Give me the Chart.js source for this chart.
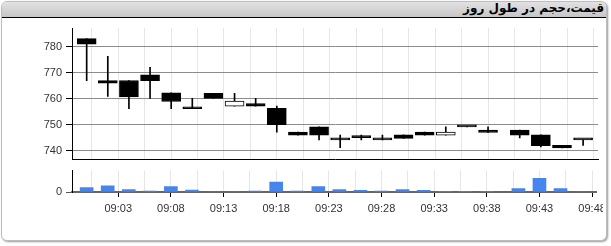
<!DOCTYPE html>
<html><head><meta charset="utf-8">
<script src="https://cdn.jsdelivr.net/npm/chart.js@4.4.1/dist/chart.umd.min.js"></script>
<style>
html,body{margin:0;padding:0;background:#fff;width:611px;height:246px;overflow:hidden}
#frame{position:absolute;left:1px;top:1px;width:606px;height:240px;box-sizing:border-box;border:1px solid #bdbdbd;border-radius:6px;box-shadow:1px 1px 2px #999;background:#fff}
#hdr{position:absolute;left:0;top:0;right:0;height:15px;border-bottom:1px solid #000;background:linear-gradient(#e2e2e2,#c6c6c6);border-radius:5px 5px 0 0}
#title{position:absolute;right:2px;top:-1px;font:bold 12px "DejaVu Sans";direction:rtl;white-space:nowrap;color:#000}
#wrap{position:absolute;left:0;top:0;width:603px;height:240px;overflow:hidden}
canvas{position:absolute;left:0}
</style></head>
<body>
<div id="frame"><div id="hdr"><span id="title">قیمت،حجم در طول روز</span></div></div>
<div id="wrap">
<canvas id="price" width="611" height="170" style="top:0px"></canvas>
<canvas id="vol" width="611" height="80" style="top:160px"></canvas>
</div>
<script>
// minutes after 09:00
const times   = [0,2,4,6,8,10,12,14,16,18,20,22,24,26,28,30,32,34,36,38,41,43,45,47];
const opens   = [783.1,767.0,767.0,769.2,762.2,756.1,762.0,757.1,758.1,756.3,747.1,749.1,744.1,745.0,744.1,746.1,747.1,745.9,749.1,747.9,747.9,746.1,742.0,744.1];
const highs   = [783.1,776.3,767.0,772.1,762.2,760.1,762.0,762.0,760.1,757.1,747.1,749.1,746.0,746.0,746.0,746.1,747.1,749.1,749.1,749.1,747.9,746.1,742.0,744.1];
const lows    = [766.9,760.9,756.1,760.1,756.1,756.1,760.1,757.1,757.1,747.1,745.9,744.1,741.1,744.1,744.1,744.7,745.9,745.9,749.1,747.0,744.9,741.4,741.0,742.0];
const closes  = [781.0,766.0,760.7,766.9,758.9,756.1,760.1,759.1,757.1,750.0,745.9,745.9,744.1,745.0,744.1,744.7,745.9,747.1,749.1,747.0,745.9,741.9,741.0,744.1];
const volumes = [470,670,270,90,570,200,0,0,90,1070,90,570,270,170,90,270,170,80,80,80,370,1470,370,0];
const priceTicks = [740,750,760,770,780];
const volumeTicks = [0];
const gridTimes = [0.5,3,5.5,8,10.5,13,15.5,18,20.5,23,25.5,28,30.5,33,35.5,38,40.5,43,45.5,48];
const labelTimes = [3,8,13,18,23,28,33,38,43,48];

Chart.defaults.font.family = 'Arial, "Liberation Sans", sans-serif';
Chart.defaults.font.size = 11;
Chart.defaults.color = '#333';
Chart.defaults.animation = false;

const X_MIN = -1.39, X_MAX = 48.41;
const fmt = v => '09:' + String(Math.round(v)).padStart(2,'0');
const isLabel = v => labelTimes.some(t => Math.abs(t - v) < 1e-6);

const bodies = times.map((t,i)=>({x:t, y:[Math.min(opens[i],closes[i]), Math.max(opens[i],closes[i])]}));
const wicks  = times.map((t,i)=>({x:t, y:[lows[i], highs[i]]}));
const bodyFill = times.map((t,i)=> closes[i] > opens[i] ? '#ffffff' : '#000000');

new Chart(document.getElementById('price'), {
  type: 'bar',
  data: { datasets: [
    { data: bodies, backgroundColor: bodyFill, borderColor: '#000', borderWidth: 1, borderSkipped: false,
      barThickness: 19, grouped: false, minBarLength: 2 },
    { data: wicks, backgroundColor: '#000', borderWidth: 0, barThickness: 1, grouped: false }
  ]},
  options: {
    responsive: false,
    layout: { padding: { left: 0, top: 28, right: 13, bottom: 7 } },
    plugins: { legend: { display: false }, tooltip: { enabled: false } },
    scales: {
      x: { type: 'linear', min: X_MIN, max: X_MAX, offset: false,
        afterBuildTicks: s => { s.ticks = gridTimes.map(v=>({value:v})); },
        afterFit: s => { s.height = 0; },
        ticks: { display: false },
        grid: { offset: false, color: '#e6e6e6', drawTicks: false },
        border: { display: true, color: '#000', width: 1 } },
      y: { type: 'linear', position: 'left', min: 736.6, max: 787.2,
        afterBuildTicks: s => { s.ticks = priceTicks.map(v=>({value:v})); },
        afterFit: s => { s.width = 72; },
        ticks: { padding: 4, color: '#333' },
        grid: { color: '#8c8c8c', tickColor: '#000', tickLength: 6 },
        border: { display: true, color: '#000', width: 1 } }
    }
  }
});

new Chart(document.getElementById('vol'), {
  type: 'bar',
  data: { datasets: [
    { data: times.map((t,i)=>({x:t, y:volumes[i]})), backgroundColor: '#4684ee', borderWidth: 0, barThickness: 13 }
  ]},
  options: {
    responsive: false,
    layout: { padding: { left: 0, top: 9, right: 13, bottom: 18 } },
    plugins: { legend: { display: false }, tooltip: { enabled: false } },
    scales: {
      x: { type: 'linear', min: X_MIN, max: X_MAX, offset: false,
        afterBuildTicks: s => { s.ticks = gridTimes.map(v=>({value:v})); },
        afterFit: s => { s.height = 30; },
        ticks: { autoSkip: false, maxRotation: 0, padding: 5, color: '#333',
          callback: v => isLabel(v) ? fmt(v) : '' },
        grid: { offset: false, color: '#e6e6e6', tickLength: 5,
          tickColor: c => (c.tick && isLabel(c.tick.value)) ? '#000' : 'rgba(0,0,0,0)' },
        border: { display: true, color: '#666', width: 2 } },
      y: { type: 'linear', position: 'left', min: 0, max: 2300,
        afterBuildTicks: s => { s.ticks = volumeTicks.map(v=>({value:v})); },
        afterFit: s => { s.width = 72; },
        ticks: { padding: 4, color: '#333' },
        grid: { color: 'rgba(0,0,0,0)', tickColor: '#555', tickLength: 6 },
        border: { display: true, color: '#000', width: 1 } }
    }
  }
});
</script>
</body></html>
